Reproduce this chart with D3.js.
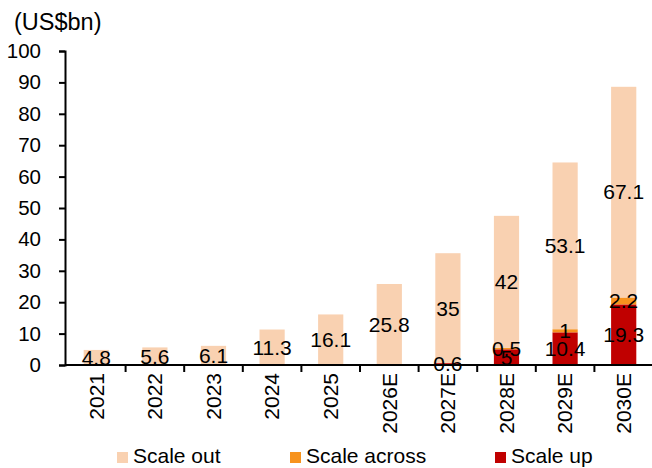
<!DOCTYPE html>
<html>
<head>
<meta charset="utf-8">
<script src="https://cdn.jsdelivr.net/npm/d3@7"></script>
<style>
  html, body { margin: 0; padding: 0; background: #fff; }
  svg { display: block; font-family: "Liberation Sans", Arial, sans-serif; }
</style>
</head>
<body>
<svg id="chart" width="652" height="468"></svg>
<script>
// Categories and stacked series (US$bn)
const years = ["2021", "2022", "2023", "2024", "2025", "2026E", "2027E", "2028E", "2029E", "2030E"];
const scaleUp     = [0, 0, 0, 0, 0, 0, 0.6, 5, 10.4, 19.3];
const scaleAcross = [0, 0, 0, 0, 0, 0, 0, 0.5, 1, 2.2];
const scaleOut    = [4.8, 5.6, 6.1, 11.3, 16.1, 25.8, 35, 42, 53.1, 67.1];
const yTicks = [0, 10, 20, 30, 40, 50, 60, 70, 80, 90, 100];

const seriesDefs = [
  { key: "up",     name: "Scale up",     values: scaleUp,     color: "#C00000" },
  { key: "across", name: "Scale across", values: scaleAcross, color: "#F7931E" },
  { key: "out",    name: "Scale out",    values: scaleOut,    color: "#F9D1B1" }
];

const rows = years.map((y, i) => {
  const r = { year: y };
  seriesDefs.forEach(s => r[s.key] = s.values[i]);
  return r;
});

const svg = d3.select("#chart");
const axisLeftX = 65, axisRightX = 652, plotTop = 51, plotBottom = 365;

const x = d3.scaleBand().domain(years).range([67, 653])
  .paddingInner(0.57).paddingOuter(0.285);
const y = d3.scaleLinear().domain([0, 100]).range([plotBottom, plotTop]);

const stack = d3.stack().keys(seriesDefs.map(s => s.key));
const stacked = stack(rows);

// Bars
const layers = svg.append("g").selectAll("g")
  .data(stacked).join("g")
  .attr("fill", (d, i) => seriesDefs[i].color);
layers.selectAll("rect")
  .data(d => d).join("rect")
  .attr("x", d => x(d.data.year))
  .attr("width", x.bandwidth())
  .attr("y", d => y(d[1]))
  .attr("height", d => y(d[0]) - y(d[1]));

// Y axis
const yAxis = d3.axisLeft(y).tickValues(yTicks).tickSize(6).tickPadding(18);
const gy = svg.append("g").attr("transform", `translate(${axisLeftX},0)`).call(yAxis);
gy.select(".domain").attr("stroke", "#000").attr("stroke-width", 2);
gy.selectAll(".tick line").attr("stroke", "#000").attr("stroke-width", 2);
gy.selectAll(".tick text").attr("font-size", 20.5).attr("fill", "#000")
  .attr("font-family", "Liberation Sans, Arial, sans-serif");

// X axis: ticks between categories, labels rotated
const step = x.step();
const gx = svg.append("g").attr("transform", `translate(0,${plotBottom})`);
gx.append("line").attr("x1", axisLeftX).attr("x2", axisRightX)
  .attr("stroke", "#000").attr("stroke-width", 2);
years.forEach((yr) => {
  const b = x(yr) + x.bandwidth() / 2 + step / 2;
  gx.append("line").attr("x1", b).attr("x2", b).attr("y1", 0).attr("y2", 7)
    .attr("stroke", "#000").attr("stroke-width", 2);
});
gx.selectAll("text.xl").data(years).join("text")
  .attr("class", "xl")
  .attr("transform", d => `translate(${x(d) + x.bandwidth() / 2},8) rotate(-90)`)
  .attr("text-anchor", "end")
  .attr("dy", "0.35em")
  .attr("font-size", 21)
  .attr("fill", "#000")
  .text(d => d);

// Unit title
svg.append("text").attr("x", 14).attr("y", 30)
  .attr("font-size", 23.5).attr("fill", "#000").text("(US$bn)");

// Value labels centred on each non-zero segment
stacked.forEach((layer, si) => {
  svg.append("g").selectAll("text")
    .data(layer.filter(d => d[1] - d[0] > 0)).join("text")
    .attr("x", d => x(d.data.year) + x.bandwidth() / 2)
    .attr("y", d => y((d[0] + d[1]) / 2))
    .attr("dy", "0.35em")
    .attr("text-anchor", "middle")
    .attr("font-size", 21)
    .attr("fill", "#000")
    .text(d => d.data[seriesDefs[si].key]);
});

// Legend
const legendItems = [
  { def: seriesDefs[2], x: 117 },
  { def: seriesDefs[1], x: 290 },
  { def: seriesDefs[0], x: 495 }
];
const lg = svg.append("g");
legendItems.forEach(it => {
  lg.append("rect").attr("x", it.x).attr("y", 452).attr("width", 11).attr("height", 11)
    .attr("fill", it.def.color);
  lg.append("text").attr("x", it.x + 16).attr("y", 462.5)
    .attr("font-size", 21).attr("fill", "#000").text(it.def.name);
});
</script>
</body>
</html>
